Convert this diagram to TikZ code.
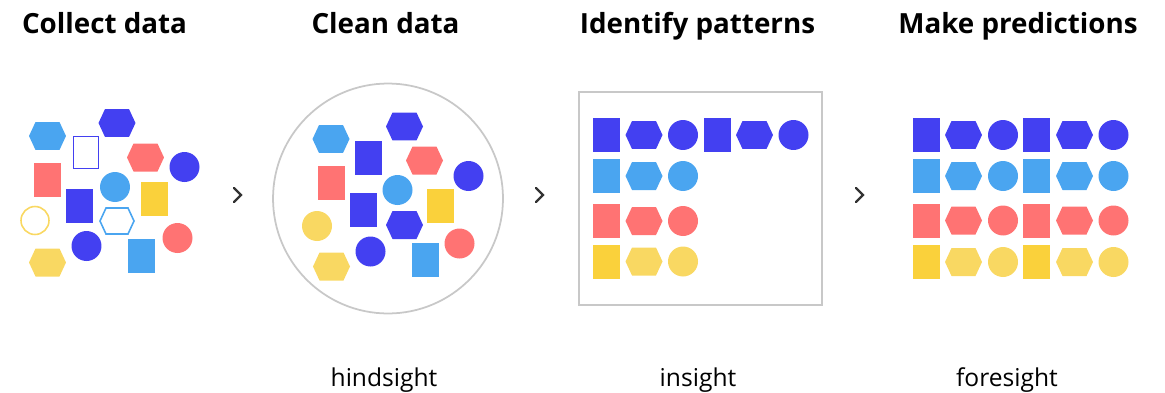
\documentclass[tikz,border=0pt]{standalone}
\usepackage{fontspec}
\setmainfont{Open Sans}
\usepackage{tikz}
\usetikzlibrary{shapes.geometric, positioning, calc}
\definecolor{dkblue}{HTML}{4340F1}
\definecolor{ltblue}{HTML}{4AA5F0}
\definecolor{coral}{HTML}{FF7373}
\definecolor{sunrect}{HTML}{FAD13B}
\definecolor{sunny}{HTML}{F9D862}
\definecolor{frame}{HTML}{C8C8C8}
\tikzset{
  sqbox/.style={rectangle, inner sep=0pt, minimum width=0.54cm, minimum height=0.68cm},
  hexbox/.style={rectangle, inner sep=0pt, minimum width=0.74cm, minimum height=0.56cm,
    path picture={\fill[#1] (path picture bounding box.west)
      -- ($(path picture bounding box.north west)+(0.13cm,0)$)
      -- ($(path picture bounding box.north east)+(-0.13cm,0)$)
      -- (path picture bounding box.east)
      -- ($(path picture bounding box.south east)+(-0.13cm,0)$)
      -- ($(path picture bounding box.south west)+(0.13cm,0)$) -- cycle;}},
  hexline/.style={rectangle, inner sep=0pt, minimum width=0.74cm, minimum height=0.58cm,
    path picture={\draw[#1, line width=0.9pt] ($(path picture bounding box.west)+(0.03cm,0)$)
      -- ($(path picture bounding box.north west)+(0.15cm,-0.03cm)$)
      -- ($(path picture bounding box.north east)+(-0.15cm,-0.03cm)$)
      -- ($(path picture bounding box.east)+(-0.03cm,0)$)
      -- ($(path picture bounding box.south east)+(-0.15cm,0.03cm)$)
      -- ($(path picture bounding box.south west)+(0.15cm,0.03cm)$) -- cycle;}},
  dotbox/.style={circle, inner sep=0pt, minimum size=0.6cm},
  title/.style={anchor=base, font=\fontsize{15.8}{18}\selectfont\bfseries},
  caption/.style={anchor=base, font=\fontsize{14}{16}\selectfont},
  chev/.style={line width=1.3pt, black!80, line cap=round, line join=miter}
}

\begin{document}
\begin{tikzpicture}[x=0.02cm, y=-0.02cm]
        \useasboundingbox (0,0) rectangle (1165,392);

        % Titel
        \node (tCollect) [title] at (104.5,33) {Collect data};
        \node (tClean) [title] at (385.5,33) {Clean data};
        \node (tIdentify) [title] at (697.5,33) {Identify patterns};
        \node (tPredict) [title] at (1018,33) {Make predictions};

        % Unterschriften
        \node (cHind) [caption] at (384,386) {hindsight};
        \node (cIn) [caption] at (698,386) {insight};
        \node (cFore) [caption] at (1007,386) {foresight};

        % Spalte 1 - gesammelte Daten
        \node (aHex1) [hexbox=ltblue] at (47.5,136) {};
        \node (aBox1) [sqbox, draw=dkblue, line width=0.9pt, minimum width=0.5cm, minimum height=0.64cm] at (86,152.5) {};
        \node (aHex2) [hexbox=dkblue] at (117,123) {};
        \node (aHex3) [hexbox=coral] at (145.5,157.5) {};
        \node (aDot1) [dotbox, fill=dkblue] at (184.5,167) {};
        \node (aBox2) [sqbox, fill=coral] at (47.5,179.5) {};
        \node (aDot2) [dotbox, fill=ltblue] at (115,187) {};
        \node (aBox3) [sqbox, fill=sunrect] at (154.5,199) {};
        \node (aBox4) [sqbox, fill=dkblue] at (79.5,206) {};
        \node (aDot3) [dotbox, draw=sunny, line width=0.9pt, minimum size=0.56cm] at (35,220.5) {};
        \node (aHex4) [hexline=ltblue] at (117,221) {};
        \node (aDot4) [dotbox, fill=dkblue] at (86.5,246) {};
        \node (aDot5) [dotbox, fill=coral] at (177.5,238) {};
        \node (aHex5) [hexbox=sunny] at (47.5,262.5) {};
        \node (aBox5) [sqbox, fill=ltblue] at (141.5,256) {};

        % Spalte 2 - bereinigte Daten
        \node (ring) [circle, draw=frame, line width=1pt, minimum size=4.6cm] at (388,198.5) {};
        \node (bHex1) [hexbox=ltblue] at (331,139) {};
        \node (bHex2) [hexbox=dkblue] at (404.5,126.5) {};
        \node (bBox1) [sqbox, fill=dkblue] at (368.5,158) {};
        \node (bHex3) [hexbox=coral] at (424.5,160.5) {};
        \node (bDot1) [dotbox, fill=dkblue] at (468.5,176) {};
        \node (bBox2) [sqbox, fill=coral] at (331.5,183) {};
        \node (bDot2) [dotbox, fill=ltblue] at (397.5,190) {};
        \node (bBox3) [sqbox, fill=sunrect] at (440.5,206) {};
        \node (bBox4) [sqbox, fill=dkblue] at (363.5,210) {};
        \node (bHex4) [hexbox=dkblue] at (404.5,225) {};
        \node (bDot3) [dotbox, fill=sunny] at (317,226) {};
        \node (bDot4) [dotbox, fill=coral] at (459.5,243.5) {};
        \node (bDot5) [dotbox, fill=dkblue] at (370.5,251.5) {};
        \node (bBox5) [sqbox, fill=ltblue] at (425.5,260) {};
        \node (bHex5) [hexbox=sunny] at (331.5,266.5) {};

        % Spalte 3 - Muster
        \node (panel) [rectangle, draw=frame, line width=1pt, minimum width=4.86cm, minimum height=4.26cm] at (700.5,198.5) {};
        \foreach \r/\y/\c/\cr in {1/135/dkblue/dkblue, 2/176/ltblue/ltblue, 3/221/coral/coral, 4/261.5/sunny/sunrect} {
          \node (cBox\r) [sqbox, fill=\cr] at (606.5,\y) {};
          \node (cHex\r) [hexbox=\c] at (644,\y) {};
          \node (cDot\r) [dotbox, fill=\c] at (683,\y) {};
        }
        \node (cBoxB) [sqbox, fill=dkblue] at (717,135) {};
        \node (cHexB) [hexbox=dkblue] at (754.5,135) {};
        \node (cDotB) [dotbox, fill=dkblue] at (793.5,135) {};

        % Spalte 4 - Vorhersagen
        \foreach \r/\y/\c/\cr in {1/135/dkblue/dkblue, 2/176/ltblue/ltblue, 3/220.5/coral/coral, 4/262/sunny/sunrect} {
          \node (dBox\r) [sqbox, fill=\cr] at (926,\y) {};
          \node (dHex\r) [hexbox=\c] at (963.5,\y) {};
          \node (dDot\r) [dotbox, fill=\c] at (1003,\y) {};
          \node (dBoxB\r) [sqbox, fill=\cr] at (1036.5,\y) {};
          \node (dHexB\r) [hexbox=\c] at (1074.5,\y) {};
          \node (dDotB\r) [dotbox, fill=\c] at (1113.5,\y) {};
        }

        % Pfeile
        \coordinate (go1) at (238,195);
        \coordinate (go2) at (540,195);
        \coordinate (go3) at (860,195);
        \foreach \g in {go1,go2,go3}
          \draw [chev] ($(\g)+(-4,-7)$) -- ($(\g)+(3,0)$) -- ($(\g)+(-4,7)$);

    \end{tikzpicture}
\end{document}
